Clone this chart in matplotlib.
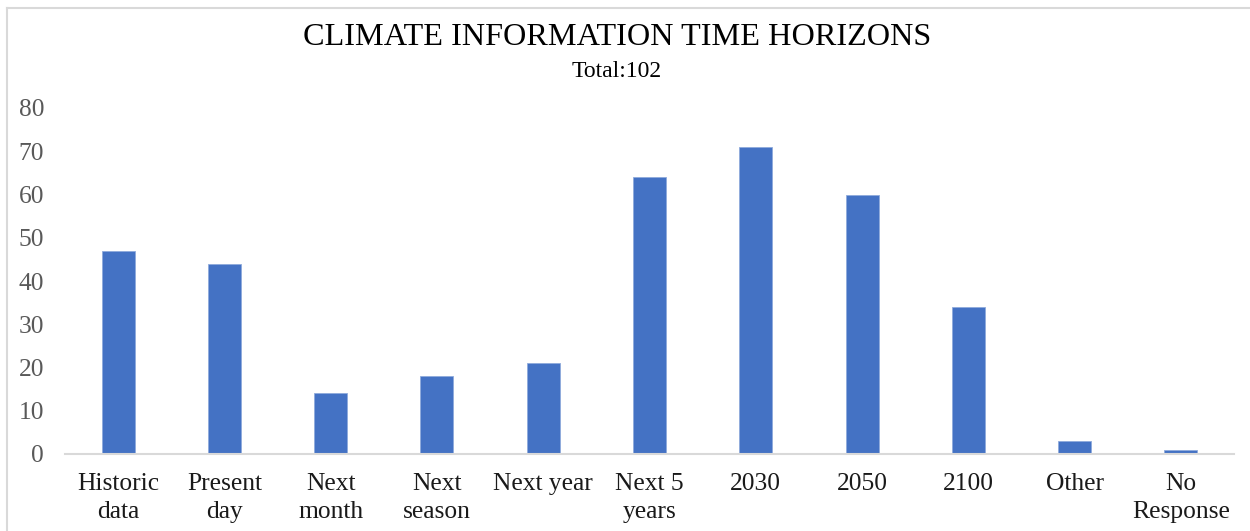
import matplotlib
matplotlib.use("Agg")
import matplotlib.pyplot as plt
from matplotlib.lines import Line2D

categories = ["Historic\ndata", "Present\nday", "Next\nmonth", "Next\nseason", "Next year",
              "Next 5\nyears", "2030", "2050", "2100", "Other", "No\nResponse"]
counts = [47, 44, 14, 18, 21, 64, 71, 60, 34, 3, 1]
yticks = [0, 10, 20, 30, 40, 50, 60, 70, 80]
title = "CLIMATE INFORMATION TIME HORIZONS"
subtitle = "Total:102"

W, H = 1250, 531
fig = plt.figure(figsize=(W / 100, H / 100), dpi=100)
plt.rcParams["font.family"] = ["Liberation Serif", "DejaVu Serif"]

ax = fig.add_axes([65 / W, 1 - 454 / H, (1234 - 65) / W, (454 - 108) / H])
x = list(range(len(categories)))
ax.bar(x, counts, width=0.31, color="#4472C4", edgecolor="#8FAADC", linewidth=0.6, zorder=2)
ax.set_xlim(-0.5, len(categories) - 0.5)
ax.set_ylim(0, 80)
ax.set_yticks(yticks)
ax.set_yticklabels([str(v) for v in yticks], fontsize=18.4, color="#595959")
ax.set_xticks(x)
ax.set_xticklabels(categories, fontsize=18.4, color="#1a1a1a", linespacing=1.3)
ax.tick_params(axis="both", length=0)
ax.tick_params(axis="y", pad=15)
ax.tick_params(axis="x", pad=14)
for side in ("top", "right", "left"):
    ax.spines[side].set_visible(False)
ax.spines["bottom"].set_color("#D9D9D9")
ax.spines["bottom"].set_linewidth(1.5)

fig.text(617 / W, 1 - 37 / H, title, ha="center", va="center", fontsize=23.2, color="black")
fig.text(617 / W, 1 - 71 / H, subtitle, ha="center", va="center", fontsize=17, color="black")

# chart frame
fig.add_artist(Line2D([7 / W, 1], [1 - 8 / H, 1 - 8 / H], color="#D9D9D9", linewidth=1.5))
fig.add_artist(Line2D([7 / W, 7 / W], [0, 1 - 8 / H], color="#D9D9D9", linewidth=1.5))

fig.savefig("out.png", dpi=100, facecolor="white")
